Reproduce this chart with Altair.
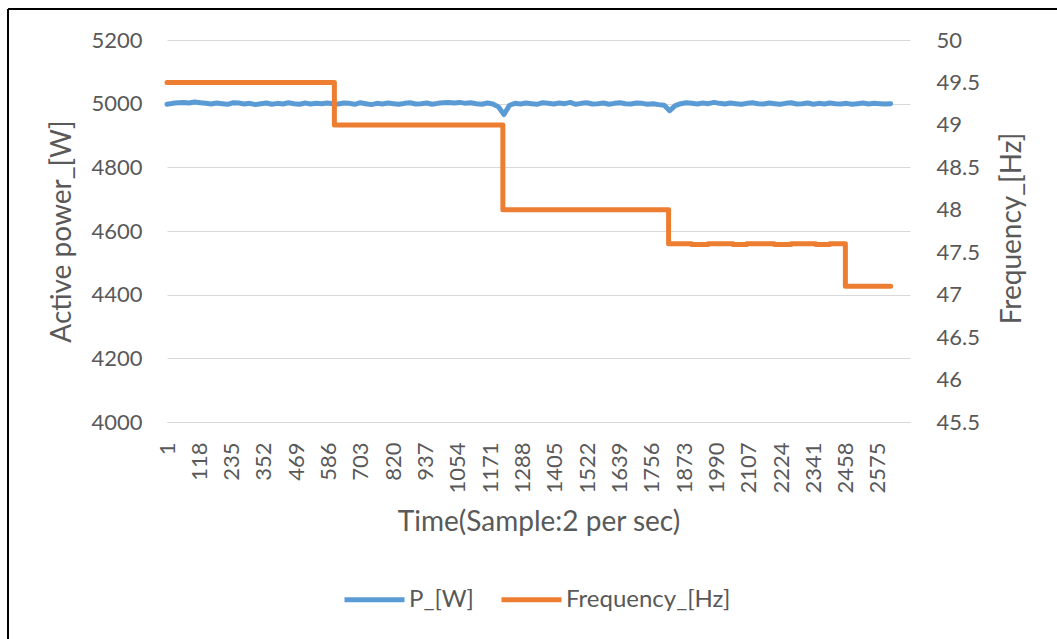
import altair as alt
import pandas as pd

# ---- data ----
x_tick_labels = [1, 118, 235, 352, 469, 586, 703, 820, 937, 1054, 1171, 1288,
                 1405, 1522, 1639, 1756, 1873, 1990, 2107, 2224, 2341, 2458, 2575]

blue_t = list(range(1, 2622, 20))
blue_p = [
    4998, 5001, 5003, 5004, 5002, 5005, 5003, 5001, 4999, 5002,
    5000, 4998, 5003, 5002, 4999, 5001, 4997, 5000, 5002, 4998,
    5001, 4999, 5003, 5000, 4998, 5002, 4999, 5001, 5000, 5002,
    5000, 4999, 5002, 5001, 4998, 5003, 5000, 4997, 5001, 4999,
    5002, 5000, 4998, 5001, 5003, 4999, 5000, 5002, 4998, 5001,
    5003, 5004, 5002, 5004, 5001, 5003, 5000, 4998, 5002, 4999,
    4990, 4966, 4995, 5001, 4999, 5002, 5000, 4998, 5003, 5001,
    4999, 5002, 5000, 5004, 4998, 5001, 5003, 4999, 5000, 5002,
    4998, 5001, 5003, 5000, 4999, 5002, 5001, 4998, 5000, 4997,
    4995, 4978, 4994, 5000, 5003, 5001, 4999, 5002, 5000, 5004,
    5001, 4999, 5002, 5000, 4998, 5001, 5003, 5000, 4999, 5002,
    5000, 4998, 5001, 5003, 4999, 5000, 5002, 4998, 5001, 4999,
    5002, 5000, 4999, 5001, 4998, 5000, 5002, 4999, 5001, 5000,
    4999, 5000,
]

freq_t = [1, 607, 1217, 1817, 1900, 1960, 2050, 2100, 2200, 2260, 2350, 2400, 2457, 2621]
freq_v = [49.5, 49.0, 48.0, 47.6, 47.59, 47.6, 47.59, 47.6, 47.59, 47.6, 47.59, 47.6, 47.1, 47.1]

series_names = ["P_[W]", "Frequency_[Hz]"]
series_colors = ["#5B9BD5", "#ED7D31"]

p_ticks = [4000, 4200, 4400, 4600, 4800, 5000, 5200]
f_ticks = [45.5, 46, 46.5, 47, 47.5, 48, 48.5, 49, 49.5, 50]

df_p = pd.DataFrame({"t": blue_t[:len(blue_p)], "p": blue_p})
df_f = pd.DataFrame({"t": freq_t, "f": freq_v})

PW, PH = 743, 382
LEFT, TOP = 167, 40
FONT = "Lato"
GREY = "#595959"

color_scale = alt.Scale(domain=series_names, range=series_colors)

x_axis = alt.Axis(values=x_tick_labels, labelAngle=270, grid=False, format="d",
                  ticks=False, domain=True, domainColor="#D9D9D9",
                  labelFlush=False, labelPadding=20, labelOverlap=False,
                  title="Time(Sample:2 per sec)",
                  titleX=PW / 2, titleY=100, titleBaseline="middle",
                  titleAlign="center")
x_scale = alt.Scale(domain=[1, 2691], nice=False, zero=False)

blue = alt.Chart(df_p).mark_line(strokeWidth=5, strokeJoin="round", strokeCap="round").encode(
    x=alt.X("t:Q", scale=x_scale, axis=x_axis),
    y=alt.Y("p:Q",
            scale=alt.Scale(domain=[4000, 5200], nice=False, zero=False),
            axis=alt.Axis(values=p_ticks, orient="left", grid=True, gridColor="#D9D9D9",
                          domain=False, ticks=False, labelPadding=25, format="d",
                          title="Active power_[W]", titleAngle=270,
                          titleX=-105, titleY=PH / 2, titleAlign="center",
                          titleBaseline="middle")),
    color=alt.Color("s:N", scale=color_scale,
                    legend=alt.Legend(title=None, orient="none", legendX=175, legendY=527,
                                      direction="horizontal", symbolType="stroke",
                                      symbolSize=3600, symbolStrokeWidth=5,
                                      labelOffset=2, columnPadding=17, labelLimit=400)),
).transform_calculate(s="'P_[W]'")

orange = alt.Chart(df_f).mark_line(strokeWidth=5, interpolate="step-after",
                                   strokeJoin="round", strokeCap="round").encode(
    x=alt.X("t:Q", scale=x_scale, axis=x_axis),
    y=alt.Y("f:Q",
            scale=alt.Scale(domain=[45.5, 50], nice=False, zero=False),
            axis=alt.Axis(values=f_ticks, orient="right", grid=False, format="~g",
                          domain=False, ticks=False, labelPadding=26,
                          title="Frequency_[Hz]", titleAngle=270,
                          titleX=102, titleY=PH / 2 - 3, titleAlign="center",
                          titleBaseline="middle")),
    color=alt.Color("s:N", scale=color_scale),
).transform_calculate(s="'Frequency_[Hz]'")

dummy = alt.Data(values=[{}])
frame_left = alt.Chart(dummy).mark_rule(color="#000000", strokeWidth=2).encode(
    x=alt.value(8 - LEFT), y=alt.value(9 - TOP), y2=alt.value(639 - TOP))
frame_top = alt.Chart(dummy).mark_rule(color="#000000", strokeWidth=2).encode(
    x=alt.value(8 - LEFT), x2=alt.value(1057 - LEFT), y=alt.value(9 - TOP))

chart = alt.layer(blue, orange, frame_left, frame_top).resolve_scale(
    y="independent"
).properties(
    width=PW, height=PH,
    autosize=alt.AutoSizeParams(type="none"),
    padding={"left": LEFT, "top": TOP, "right": 1057 - LEFT - PW, "bottom": 639 - TOP - PH},
    background="white",
).configure_view(stroke=None).configure_axis(
    labelFont=FONT, titleFont=FONT, labelFontSize=22, titleFontSize=28,
    labelColor=GREY, titleColor=GREY, titleFontWeight="normal",
).configure_legend(labelFont=FONT, labelFontSize=24, labelColor=GREY)

chart.save("out.html", embed_options={"renderer": "svg", "actions": False})
